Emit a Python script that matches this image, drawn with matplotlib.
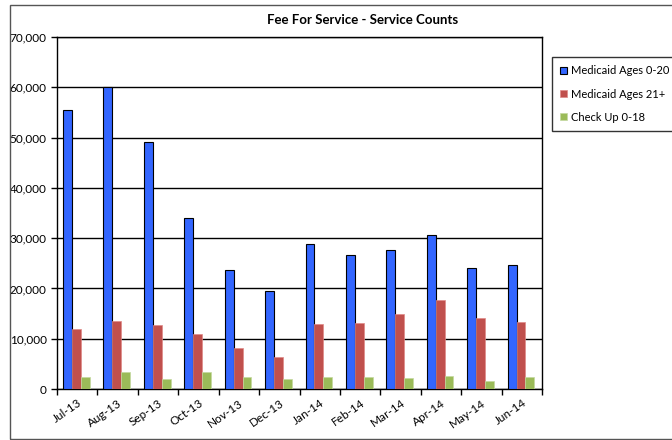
import matplotlib
matplotlib.use("Agg")
import matplotlib.pyplot as plt
import numpy as np
from matplotlib.patches import Rectangle
from matplotlib.ticker import FuncFormatter

months = ["Jul-13", "Aug-13", "Sep-13", "Oct-13", "Nov-13", "Dec-13",
          "Jan-14", "Feb-14", "Mar-14", "Apr-14", "May-14", "Jun-14"]
medicaid_0_20 = [55500, 60000, 49100, 34000, 23700, 19500, 28900, 26700, 27700, 30700, 24000, 24700]
medicaid_21 = [11900, 13600, 12800, 10900, 8100, 6300, 13000, 13100, 14900, 17700, 14100, 13300]
checkup_0_18 = [2400, 3300, 2000, 3300, 2400, 1900, 2400, 2400, 2200, 2600, 1600, 2400]

plt.rcParams['font.family'] = ['Lato', 'DejaVu Sans']

W, H = 672, 440
fig = plt.figure(figsize=(W/100, H/100), dpi=100)
ax = fig.add_axes([57/W, 1-389/H, (542-57)/W, (389-37)/H])

x = np.arange(len(months))
bw = 0.22
ax.bar(x + 0.15, medicaid_0_20, bw, align='edge', color='#3366FF', edgecolor='black', linewidth=0.8, label='Medicaid Ages 0-20', zorder=3)
ax.bar(x + 0.15 + bw, medicaid_21, bw, align='edge', color='#C0504D', edgecolor='#E08A88', linewidth=0.5, label='Medicaid Ages 21+', zorder=3)
ax.bar(x + 0.15 + 2*bw, checkup_0_18, bw, align='edge', color='#9BBB59', edgecolor='#C4D9A0', linewidth=0.5, label='Check Up 0-18', zorder=3)

ax.set_xlim(0, 12)
ax.set_ylim(0, 70000)
ax.set_yticks(np.arange(0, 70001, 10000))
ax.yaxis.set_major_formatter(FuncFormatter(lambda v, p: f"{int(v):,}"))
ax.yaxis.grid(True, color='black', linewidth=1, zorder=0)
ax.set_xticks(np.arange(0, 13))
ax.set_xticklabels([])
ax.set_xticks(x + 0.5, minor=True)
ax.set_xticklabels(months, minor=True, rotation=35, ha='right', rotation_mode='anchor', fontsize=8.5)
ax.tick_params(axis='x', which='minor', length=0, pad=6)
ax.tick_params(axis='x', which='major', length=4, direction='out', width=1)
ax.tick_params(axis='y', length=4, direction='out', labelsize=8.5, width=1)
for s in ax.spines.values():
    s.set_color('black')
    s.set_linewidth(1)

fig.text(363/W, 1-20/H, "Fee For Service - Service Counts", ha='center', va='center', fontsize=9.5, fontweight='bold')

leg = fig.legend(loc='upper left', bbox_to_anchor=(552/W, 1-57/H), fontsize=8, frameon=True,
                 fancybox=False, edgecolor='black', handlelength=0.6, handleheight=0.6,
                 handletextpad=0.35, labelspacing=1.1, borderpad=0.75, borderaxespad=0)
leg.get_frame().set_linewidth(1)

fig.patches.append(Rectangle((10/W, 1-439/H), (W+10)/W, (439-5)/H, transform=fig.transFigure,
                             fill=False, edgecolor='#555555', linewidth=1))

fig.savefig("out.png", dpi=100)
